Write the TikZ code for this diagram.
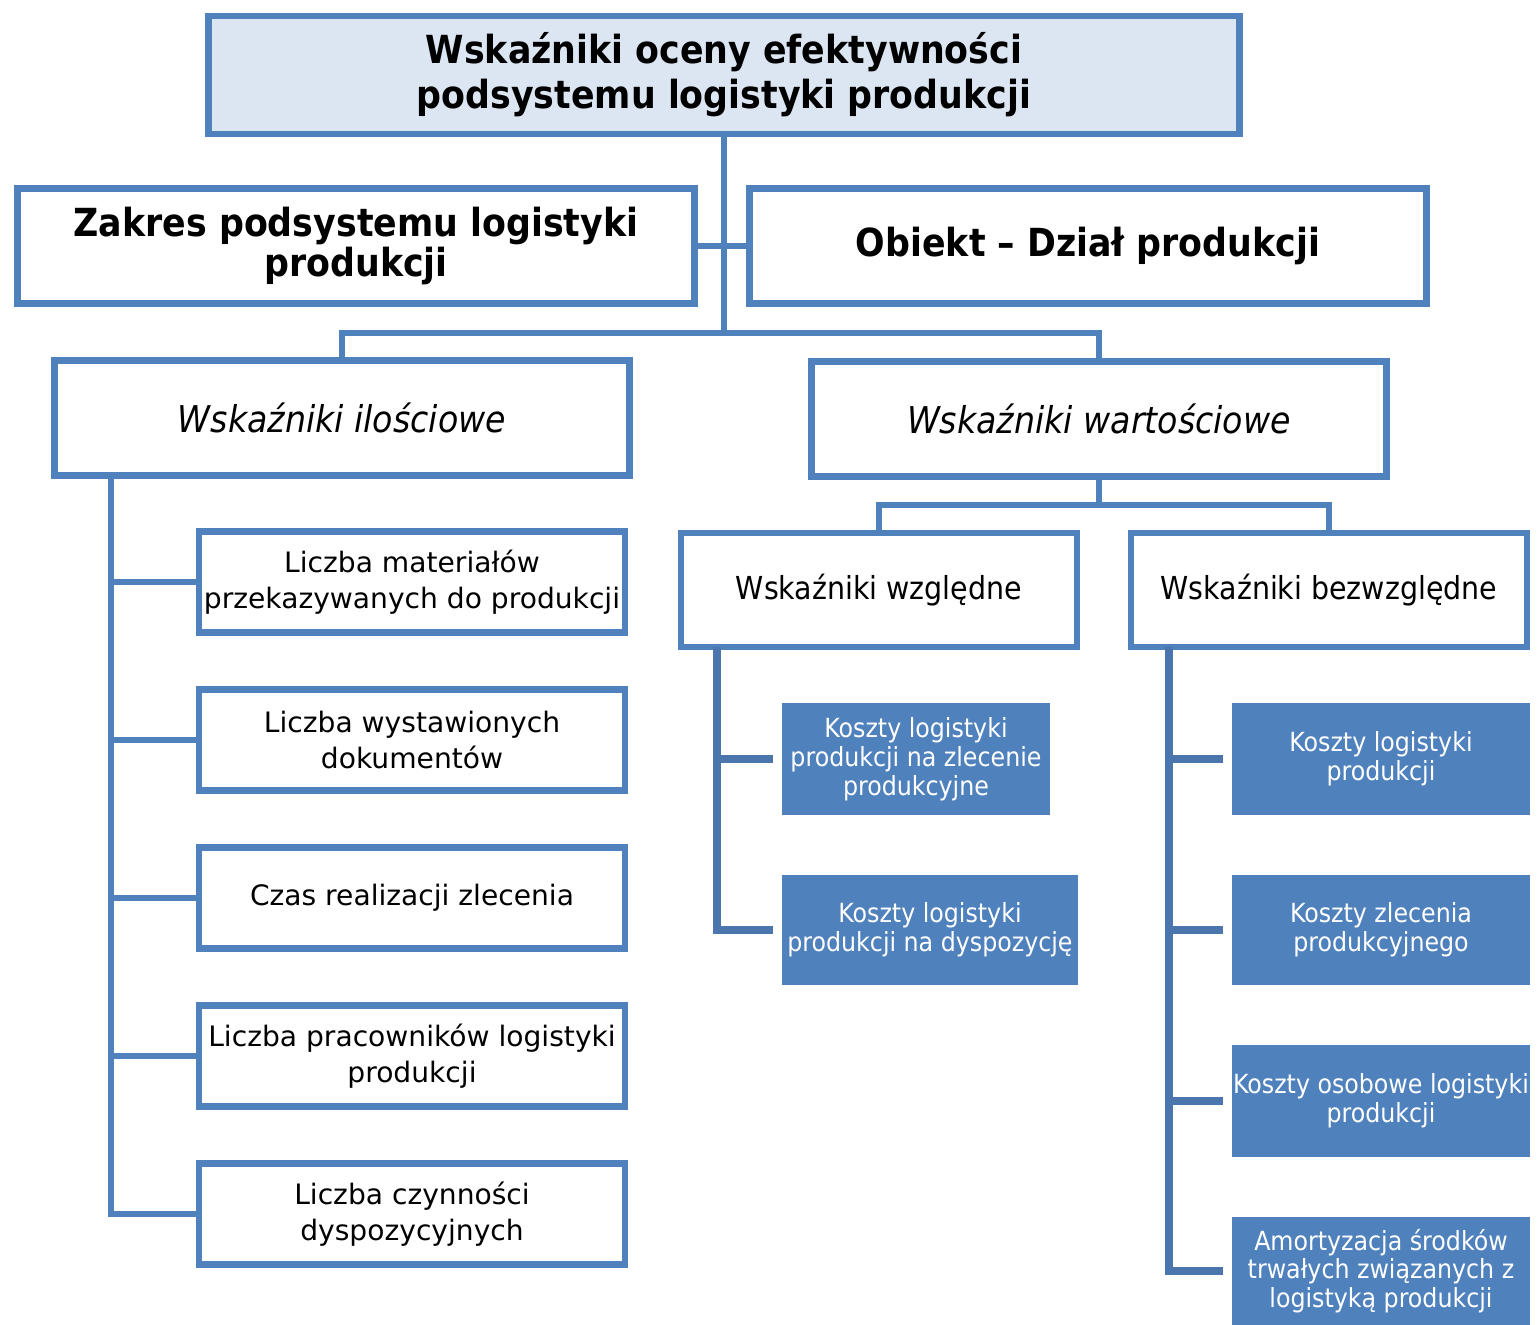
\documentclass[tikz,border=0pt]{standalone}
\usepackage{fontspec}
\setmainfont{DejaVu Sans}
\newfontfamily\condfont{DejaVu Sans Condensed}
\usepackage{xcolor}
\usepackage{tikz}
\definecolor{frameblue}{HTML}{4F81BD}
\definecolor{titlefill}{HTML}{DCE6F2}
\definecolor{spineblue}{HTML}{4A76AD}

\begin{document}
\begin{tikzpicture}[x=0.01cm, y=-0.01cm,
    box/.style={rectangle, draw=frameblue, line width=0.065cm, fill=white, align=center, inner sep=0pt},
    titlebox/.style={box, fill=titlefill, minimum width=10.3cm, minimum height=1.18cm, font=\condfont\bfseries\fontsize{11}{12.8}\selectfont},
    headbox/.style={box, minimum width=6.77cm, minimum height=1.15cm, font=\condfont\bfseries\fontsize{11}{11.4}\selectfont},
    kindbox/.style={box, minimum width=5.75cm, minimum height=1.15cm, font=\condfont\itshape\fontsize{10.5}{12}\selectfont},
    subbox/.style={box, minimum width=3.96cm, minimum height=1.14cm, font=\condfont\fontsize{9}{11}\selectfont},
    itembox/.style={box, minimum width=4.26cm, minimum height=1.01cm, font=\fontsize{8}{10.2}\selectfont},
    costbox/.style={rectangle, fill=frameblue, text=white, align=center, inner sep=0pt, minimum width=2.97cm, font=\condfont\fontsize{7.5}{8.2}\selectfont},
    link/.style={draw=frameblue, line width=0.065cm},
    branch/.style={draw=spineblue, line width=0.075cm, shorten >=0.09cm}
]
\useasboundingbox (0,0) rectangle (1538,1325);

\node[titlebox] (title) at (724,75) {Wskaźniki oceny efektywności\\podsystemu logistyki produkcji};
\node[headbox] (scope) at (356,246) {Zakres podsystemu logistyki\\produkcji};
\node[headbox] (object) at (1088,246) {Obiekt – Dział produkcji};
\node[kindbox] (qty) at (342,418) {Wskaźniki ilościowe};
\node[kindbox] (val) at (1099,419) {Wskaźniki wartościowe};
\node[subbox] (rel) at (879,590) {Wskaźniki względne};
\node[subbox] (abs) at (1329,590) {Wskaźniki bezwzględne};

\node[itembox] (q1) at (412,582) {Liczba materiałów\\przekazywanych do produkcji};
\node[itembox] (q2) at (412,740) {Liczba wystawionych\\dokumentów};
\node[itembox] (q3) at (412,898) {Czas realizacji zlecenia};
\node[itembox] (q4) at (412,1056) {Liczba pracowników logistyki\\produkcji};
\node[itembox] (q5) at (412,1214) {Liczba czynności\\dyspozycyjnych};

\node[costbox, minimum width=2.67cm, minimum height=1.12cm] (r1) at (916,759) {Koszty logistyki\\produkcji na zlecenie\\produkcyjne};
\node[costbox, minimum width=2.95cm, minimum height=1.09cm] (r2) at (930,930) {Koszty logistyki\\produkcji na dyspozycję};

\node[costbox, minimum height=1.12cm] (a1) at (1381,759) {Koszty logistyki\\produkcji};
\node[costbox, minimum height=1.09cm] (a2) at (1381,930) {Koszty zlecenia\\produkcyjnego};
\node[costbox, minimum height=1.11cm] (a3) at (1381,1101) {Koszty osobowe logistyki\\produkcji};
\node[costbox, minimum height=1.07cm] (a4) at (1381,1271) {Amortyzacja środków\\trwałych związanych z\\logistyką produkcji};

\coordinate (hub) at (724,333);
\coordinate (split) at (1099,505);
\coordinate (qspine) at (111,475);
\coordinate (rspine) at (717,647);
\coordinate (aspine) at (1169,647);

\draw[link] (title) -- (hub);
\draw[link] (scope) -- (object);
\draw[link] (qty) |- (hub) -| (val);
\draw[link] (val) -- (split);
\draw[link] (rel) |- (split) -| (abs);
\foreach \i in {1,...,5}
    \draw[link] (qspine) |- (q\i);
\foreach \i in {1,2}
    \draw[branch] (rspine) |- (r\i);
\foreach \i in {1,...,4}
    \draw[branch] (aspine) |- (a\i);
\end{tikzpicture}
\end{document}
